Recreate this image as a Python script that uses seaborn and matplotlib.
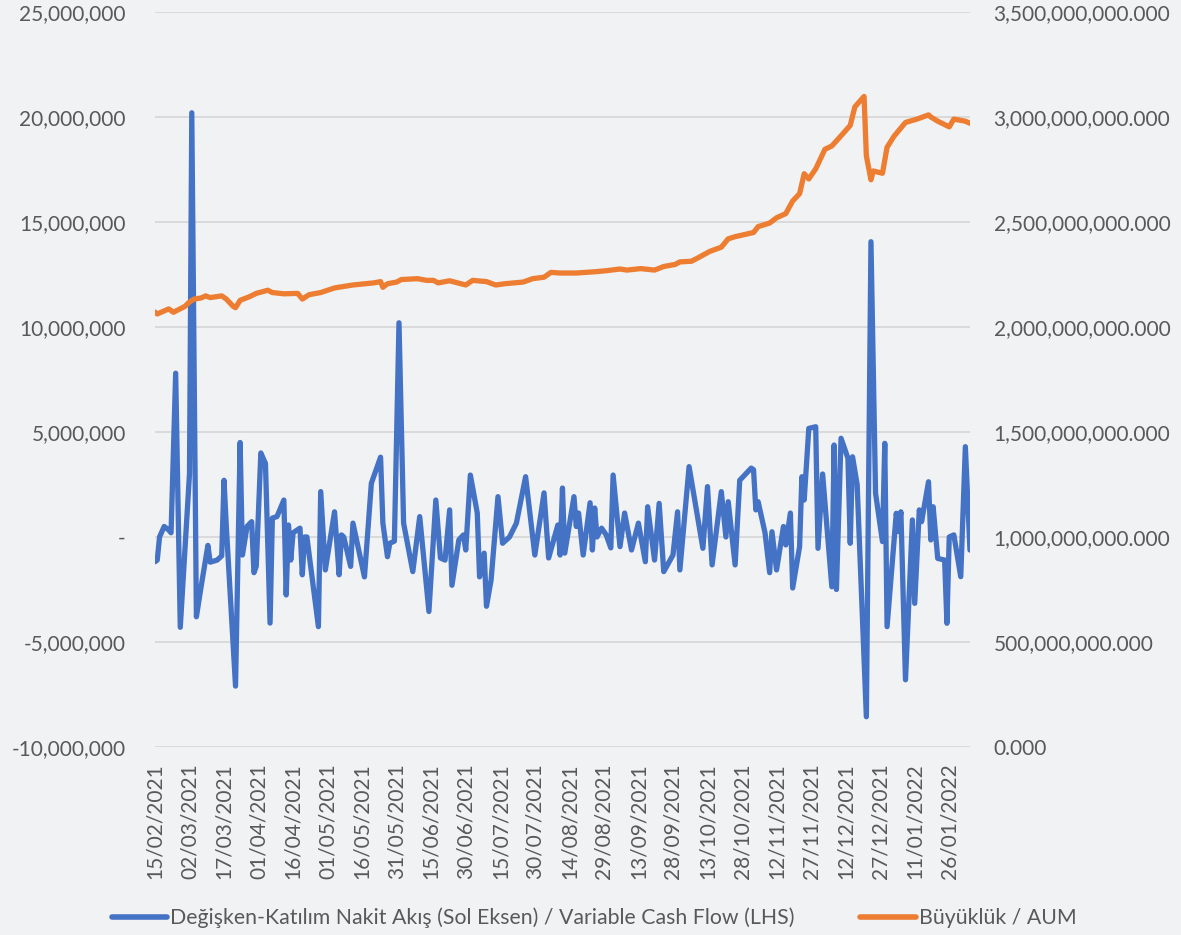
import numpy as np
import pandas as pd
import matplotlib
matplotlib.use("Agg")
import matplotlib.pyplot as plt
import matplotlib.dates as mdates
from matplotlib.ticker import FuncFormatter, MultipleLocator
from matplotlib.lines import Line2D
import seaborn as sns

# ---------------- data ----------------
flow_dates = [
    "2021-02-15", "2021-02-16", "2021-02-17", "2021-02-19", "2021-02-21", "2021-02-22", "2021-02-24", "2021-02-26",
    "2021-03-02", "2021-03-03", "2021-03-05", "2021-03-07", "2021-03-10", "2021-03-11", "2021-03-14", "2021-03-16",
    "2021-03-17", "2021-03-18", "2021-03-22", "2021-03-24", "2021-03-25", "2021-03-27", "2021-03-29", "2021-03-30",
    "2021-03-31", "2021-04-02", "2021-04-04", "2021-04-06", "2021-04-07", "2021-04-09", "2021-04-12", "2021-04-13",
    "2021-04-14", "2021-04-15", "2021-04-16", "2021-04-19", "2021-04-20", "2021-04-21", "2021-04-22", "2021-04-27",
    "2021-04-28", "2021-04-30", "2021-05-04", "2021-05-06", "2021-05-07", "2021-05-08", "2021-05-11", "2021-05-12",
    "2021-05-17", "2021-05-20", "2021-05-24", "2021-05-25", "2021-05-27", "2021-05-28", "2021-05-30", "2021-06-01",
    "2021-06-03", "2021-06-07", "2021-06-10", "2021-06-14", "2021-06-17", "2021-06-19", "2021-06-21", "2021-06-23",
    "2021-06-24", "2021-06-27", "2021-06-29", "2021-06-30", "2021-07-02", "2021-07-05", "2021-07-06", "2021-07-08",
    "2021-07-09", "2021-07-11", "2021-07-14", "2021-07-16", "2021-07-19", "2021-07-22", "2021-07-26", "2021-07-30",
    "2021-08-03", "2021-08-05", "2021-08-09", "2021-08-10", "2021-08-11", "2021-08-12", "2021-08-16", "2021-08-17",
    "2021-08-18", "2021-08-20", "2021-08-23", "2021-08-24", "2021-08-25", "2021-08-26", "2021-08-28", "2021-08-30",
    "2021-09-01", "2021-09-02", "2021-09-05", "2021-09-07", "2021-09-10", "2021-09-13", "2021-09-16", "2021-09-17",
    "2021-09-20", "2021-09-22", "2021-09-24", "2021-09-28", "2021-09-30", "2021-10-01", "2021-10-05", "2021-10-11",
    "2021-10-13", "2021-10-15", "2021-10-19", "2021-10-21", "2021-10-22", "2021-10-25", "2021-10-27", "2021-11-01",
    "2021-11-02", "2021-11-03", "2021-11-04", "2021-11-07", "2021-11-09", "2021-11-10", "2021-11-12", "2021-11-15",
    "2021-11-16", "2021-11-18", "2021-11-19", "2021-11-22", "2021-11-23", "2021-11-24", "2021-11-26", "2021-11-29",
    "2021-11-30", "2021-12-02", "2021-12-06", "2021-12-07", "2021-12-08", "2021-12-10", "2021-12-13", "2021-12-14",
    "2021-12-15", "2021-12-17", "2021-12-21", "2021-12-23", "2021-12-25", "2021-12-28", "2021-12-29", "2021-12-30",
    "2022-01-03", "2022-01-04", "2022-01-05", "2022-01-07", "2022-01-10", "2022-01-11", "2022-01-13", "2022-01-14",
    "2022-01-17", "2022-01-18", "2022-01-19", "2022-01-21", "2022-01-24", "2022-01-25", "2022-01-26", "2022-01-28",
    "2022-01-31", "2022-02-02", "2022-02-04",
]
# variable cash flow, millions
flow_values_m = [
    -1.18, -1.1, 0.0, 0.5, 0.33, 0.2, 7.8, -4.3,
    3.0, 20.2, -3.8, -2.4, -0.4, -1.2, -1.1, -0.9,
    2.7, 0.5, -7.1, 4.5, -0.86, 0.5, 0.73, -1.7,
    -1.4, 4.0, 3.5, -4.1, 0.9, 0.97, 1.76, -2.76,
    0.57, -1.1, 0.2, 0.42, -1.8, 0.0, 0.0, -4.27,
    2.16, -1.57, 1.2, -1.8, 0.1, 0.0, -1.4, 0.66,
    -1.9, 2.56, 3.8, 0.66, -0.94, -0.3, -0.2, 10.2,
    0.66, -1.65, 0.97, -3.55, 1.76, -1.0, -1.1, 1.29,
    -2.3, -0.14, 0.1, -0.62, 2.95, 1.14, -1.9, -0.77,
    -3.3, -2.05, 1.92, -0.3, 0.0, 0.66, 2.87, -0.86,
    2.1, -1.0, 0.57, -0.86, 2.33, -0.77, 1.92, 0.5,
    1.14, -0.86, 1.63, -0.62, 1.38, 0.0, 0.42, 0.1,
    -0.52, 2.95, -0.46, 1.14, -0.62, 0.66, -1.18, 1.44,
    -1.1, 1.6, -1.65, -0.86, 1.2, -1.57, 3.35, -0.54,
    2.4, -1.33, 2.16, 0.0, 1.68, -1.33, 2.7, 3.28,
    3.2, 1.29, 1.68, 0.19, -1.7, 0.25, -1.57, 0.5,
    -0.38, 1.14, -2.43, -0.46, 2.87, 1.76, 5.17, 5.25,
    -0.54, 3.0, -2.37, 4.38, -2.5, 4.7, 3.75, -0.3,
    3.82, 2.5, -8.56, 14.06, 2.08, -0.22, 4.46, -4.27,
    1.13, 0.25, 1.2, -6.8, 0.81, -3.16, 1.29, 0.73,
    2.63, -0.14, 1.44, -1.02, -1.1, -4.11, 0.0, 0.1,
    -1.89, 4.3, -0.62,
]

aum_dates = [
    "2021-02-15", "2021-02-16", "2021-02-21", "2021-02-23", "2021-02-28", "2021-03-02", "2021-03-04", "2021-03-07",
    "2021-03-09", "2021-03-11", "2021-03-16", "2021-03-18", "2021-03-21", "2021-03-22", "2021-03-24", "2021-03-28",
    "2021-03-31", "2021-04-05", "2021-04-07", "2021-04-12", "2021-04-18", "2021-04-20", "2021-04-23", "2021-04-28",
    "2021-05-04", "2021-05-12", "2021-05-21", "2021-05-24", "2021-05-25", "2021-05-27", "2021-05-31", "2021-06-02",
    "2021-06-09", "2021-06-13", "2021-06-16", "2021-06-18", "2021-06-23", "2021-06-30", "2021-07-03", "2021-07-09",
    "2021-07-13", "2021-07-17", "2021-07-25", "2021-07-29", "2021-08-03", "2021-08-06", "2021-08-10", "2021-08-17",
    "2021-08-25", "2021-08-30", "2021-09-05", "2021-09-08", "2021-09-14", "2021-09-20", "2021-09-24", "2021-09-29",
    "2021-10-01", "2021-10-06", "2021-10-09", "2021-10-14", "2021-10-19", "2021-10-22", "2021-10-25", "2021-11-02",
    "2021-11-04", "2021-11-09", "2021-11-12", "2021-11-16", "2021-11-19", "2021-11-22", "2021-11-24", "2021-11-26",
    "2021-11-29", "2021-12-03", "2021-12-06", "2021-12-09", "2021-12-14", "2021-12-16", "2021-12-20", "2021-12-21",
    "2021-12-23", "2021-12-24", "2021-12-28", "2021-12-30", "2022-01-02", "2022-01-07", "2022-01-12", "2022-01-17",
    "2022-01-18", "2022-01-21", "2022-01-26", "2022-01-28", "2022-02-02", "2022-02-04",
]
# AUM, billions
aum_values_b = [
    2.071, 2.062, 2.086, 2.070, 2.098, 2.119, 2.133, 2.138,
    2.148, 2.140, 2.148, 2.133, 2.098, 2.092, 2.127, 2.144,
    2.160, 2.175, 2.164, 2.158, 2.160, 2.133, 2.154, 2.164,
    2.186, 2.200, 2.210, 2.216, 2.189, 2.206, 2.214, 2.226,
    2.230, 2.222, 2.222, 2.210, 2.220, 2.200, 2.222, 2.216,
    2.200, 2.206, 2.214, 2.230, 2.237, 2.260, 2.257, 2.257,
    2.263, 2.268, 2.276, 2.271, 2.278, 2.271, 2.288, 2.298,
    2.310, 2.313, 2.330, 2.360, 2.380, 2.420, 2.430, 2.450,
    2.478, 2.495, 2.520, 2.540, 2.600, 2.635, 2.730, 2.705,
    2.753, 2.846, 2.862, 2.898, 2.960, 3.048, 3.098, 2.815,
    2.701, 2.743, 2.732, 2.856, 2.908, 2.974, 2.990, 3.010,
    3.000, 2.980, 2.953, 2.990, 2.980, 2.970,
]

flow_label = "Değişken-Katılım Nakit Akış (Sol Eksen) / Variable Cash Flow (LHS)"
aum_label = "Büyüklük / AUM"

# ---------------- build ----------------
flow_df = pd.DataFrame({"date": pd.to_datetime(flow_dates),
                        "flow": np.array(flow_values_m) * 1e6})
aum_df = pd.DataFrame({"date": pd.to_datetime(aum_dates),
                       "aum": np.array(aum_values_b) * 1e9})

sns.set_theme(style="white")
plt.rcParams["font.family"] = ["Lato", "DejaVu Sans"]

BLUE = "#4472C4"
ORANGE = "#ED7D31"
TXT = "#595959"
BG = "#f1f2f4"
FS = 15

fig = plt.figure(figsize=(11.81, 9.35), dpi=100, facecolor=BG)
ax = fig.add_axes([0.1312, 0.2011, 0.8213 - 0.1312, 0.98717 - 0.2011])
ax.set_facecolor("none")
ax2 = ax.twinx()

sns.lineplot(data=flow_df, x="date", y="flow", ax=ax, color=BLUE, lw=3.8,
             solid_joinstyle="round", solid_capstyle="round", legend=False)
sns.lineplot(data=aum_df, x="date", y="aum", ax=ax2, color=ORANGE, lw=3.8,
             solid_joinstyle="round", solid_capstyle="round", legend=False)

ax.set_ylim(-10e6, 25e6)
ax.yaxis.set_major_locator(MultipleLocator(5e6))
ax.yaxis.set_major_formatter(FuncFormatter(lambda v, p: "-" if abs(v) < 1 else f"{v:,.0f}"))
ax2.set_ylim(0, 3.5e9)
ax2.yaxis.set_major_locator(MultipleLocator(0.5e9))
ax2.yaxis.set_major_formatter(FuncFormatter(lambda v, p: f"{v:,.3f}"))

start = pd.Timestamp(flow_dates[0])
end = max(pd.Timestamp(flow_dates[-1]), pd.Timestamp(aum_dates[-1]))
ax.set_xlim(start, end)
ticks = pd.date_range(start, end, freq="15D")
ax.set_xticks(ticks)
ax.xaxis.set_major_formatter(mdates.DateFormatter("%d/%m/%Y"))

ax.grid(axis="y", color="#d6d6d6", lw=1.2)
ax.grid(axis="x", visible=False)
ax2.grid(False)
for a in (ax, ax2):
    for s in a.spines.values():
        s.set_visible(False)
    a.set_xlabel("")
    a.set_ylabel("")

ax.tick_params(axis="y", length=0, pad=21, labelsize=FS, labelcolor=TXT)
ax2.tick_params(axis="y", length=0, pad=17, labelsize=FS, labelcolor=TXT)
ax.tick_params(axis="x", length=0, pad=12, labelsize=FS, labelcolor=TXT, labelrotation=90)

handles = [Line2D([0], [0], color=BLUE, lw=4, solid_capstyle="round"),
           Line2D([0], [0], color=ORANGE, lw=4, solid_capstyle="round")]
fig.legend(handles, [flow_label, aum_label], loc="center", bbox_to_anchor=(0.503, 0.018),
           ncol=2, frameon=False, fontsize=15.3, labelcolor=TXT,
           handlelength=2.6, handletextpad=0.15, columnspacing=3.1)

fig.savefig("out.png", dpi=100, facecolor=BG)
